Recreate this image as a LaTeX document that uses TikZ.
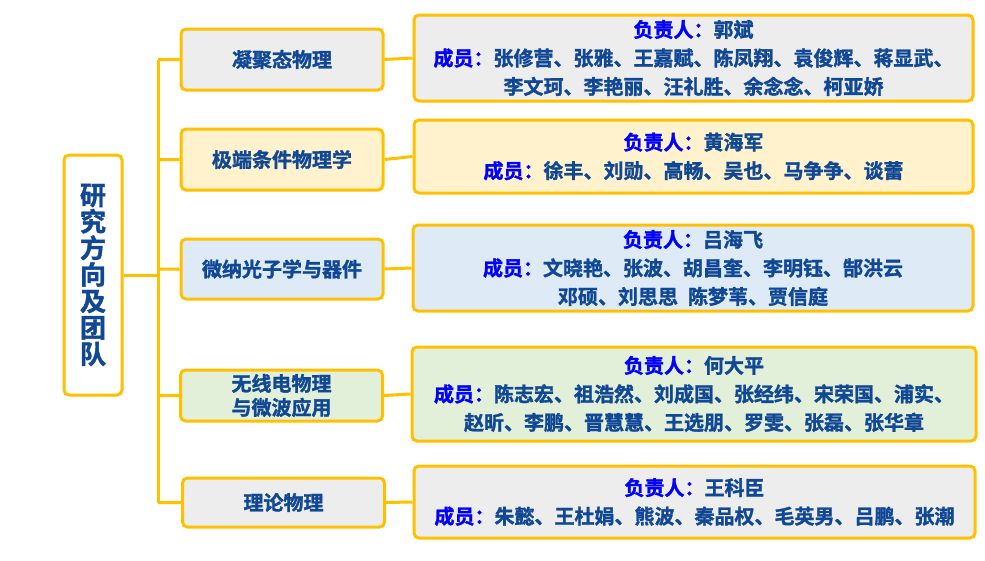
\documentclass[tikz,border=0pt]{standalone}
\usepackage{fontspec}
\newfontfamily\cjk{Noto Sans CJK SC}[BoldFont={Noto Sans CJK SC Bold},BoldFeatures={FakeBold=1.5}]
\usetikzlibrary{positioning}
\definecolor{boxline}{HTML}{FFC000}
\definecolor{nameblue}{RGB}{16,72,150}
\definecolor{labelblue}{HTML}{0000FF}
\definecolor{fillgray}{HTML}{EDEDED}
\definecolor{fillyellow}{HTML}{FFF2CC}
\definecolor{fillblue}{HTML}{DEEBF7}
\definecolor{fillgreen}{HTML}{E2F0D9}
\newcommand{\chief}[1]{{\color{labelblue}负责人：}#1}
\newcommand{\members}{{\color{labelblue}成员：}}

\begin{document}
\begin{tikzpicture}[
    x=1pt,y=-1pt,
    line width=3pt,
    %
    root/.style={draw=boxline, fill=white, rounded corners=5pt, minimum width=58pt,
                 minimum height=240pt, align=center, text=nameblue,
                 font=\cjk\bfseries\fontsize{26}{26.5}\selectfont},
    field/.style={draw=boxline, rounded corners=5pt, minimum width=202pt, inner sep=0pt,
                  align=center, text=nameblue, font=\cjk\bfseries\fontsize{20}{24}\selectfont},
    team/.style={draw=boxline, rounded corners=5pt, minimum width=559pt, inner sep=0pt,
                 align=center, text=nameblue, font=\cjk\bfseries\fontsize{20}{28.5}\selectfont},
    %
    link/.style={draw=boxline}
    ]

    \useasboundingbox (0,0) rectangle (985,560);

    \node[root] (root) at (93,275) {研\\究\\方\\向\\及\\团\\队};
    \coordinate (spine) at (158,275);
    %
    \node[field,fill=fillgray,minimum height=61pt]   (f1) at (282,59.5)  {凝聚态物理};
    \node[field,fill=fillyellow,minimum height=61pt] (f2) at (282,159.5) {极端条件物理学};
    \node[field,fill=fillblue,minimum height=60pt]   (f3) at (282,269)   {微纳光子学与器件};
    \node[field,fill=fillgreen,minimum height=51pt]  (f4) at (281.5,395.5) {无线电物理\\与微波应用};
    \node[field,fill=fillgray,minimum height=49pt]   (f5) at (283.5,502.5) {理论物理};
    %
    \node[team,fill=fillgray,minimum height=86pt] (t1) at (693.5,58)
        {\chief{郭斌}\\\members 张修营、张雅、王嘉赋、陈凤翔、袁俊辉、蒋显武、\\李文珂、李艳丽、汪礼胜、余念念、柯亚娇};
    \node[team,fill=fillyellow,minimum height=73pt] (t2) at (693.5,156.5)
        {\chief{黄海军}\\\members 徐丰、刘勋、高畅、吴也、马争争、谈蕾};
    \node[team,fill=fillblue,minimum height=86pt,minimum width=560pt] (t3) at (693,268)
        {\chief{吕海飞}\\\members 文晓艳、张波、胡昌奎、李明钰、郜洪云\\邓硕、刘思思\hspace{0.5em}陈梦苇、贾信庭};
    \node[team,fill=fillgreen,minimum height=94pt,minimum width=564pt] (t4) at (694,394)
        {\chief{何大平}\\\members 陈志宏、祖浩然、刘成国、张经纬、宋荣国、浦实、\\赵昕、李鹏、晋慧慧、王选朋、罗雯、张磊、张华章};
    \node[team,fill=fillgray,minimum height=72pt,minimum width=561pt] (t5) at (694.5,502)
        {\chief{王科臣}\\\members 朱懿、王杜娟、熊波、秦品权、毛英男、吕鹏、张潮};
    %
    \draw[link] (root.east) -- (spine);
    \draw[link] (spine |- f1.west) -- (spine |- f5.west);
    \foreach \i in {1,...,5}
        \draw[link] (spine |- f\i.west) -- (f\i.west) (f\i.east) -- (t\i.west);

\end{tikzpicture}
\end{document}
